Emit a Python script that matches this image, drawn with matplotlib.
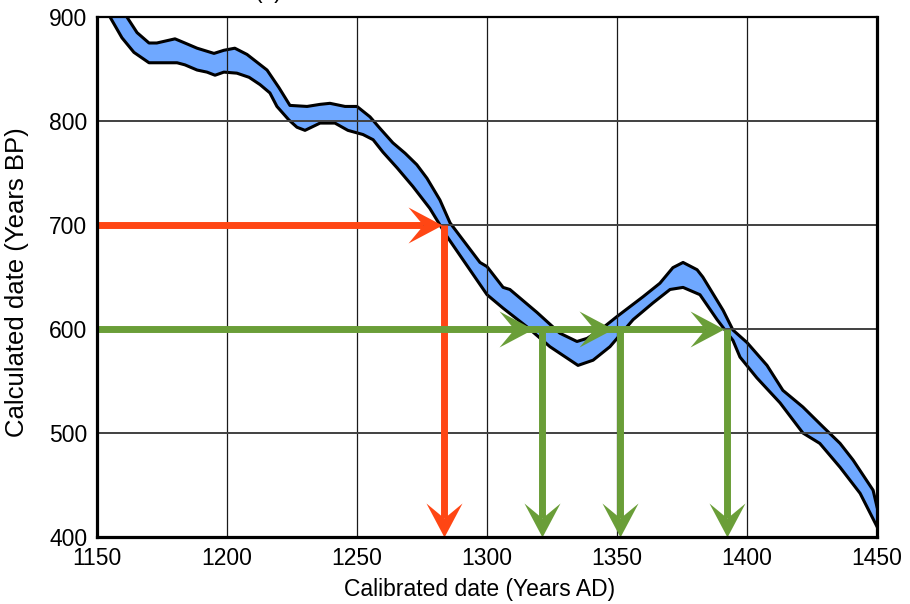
import numpy as np
import matplotlib
matplotlib.use("Agg")
import matplotlib.pyplot as plt
from matplotlib.path import Path

# ---------------- data ----------------
upper_x = [1150, 1157, 1161.5, 1165.4, 1170, 1173, 1180, 1183.8, 1188.5, 1195, 1198.8,
           1203, 1207.7, 1215.4, 1220, 1224.2, 1230.8, 1235.8, 1239.6, 1245.4, 1250,
           1255, 1258.8, 1263.8, 1268.5, 1273, 1276.9, 1281.9, 1285.8, 1297.3, 1300,
           1306.2, 1308.8, 1319.2, 1328, 1334.6, 1338.5, 1343.5, 1350, 1360, 1366.5,
           1371.5, 1375.4, 1380.8, 1383, 1390.8, 1394.6, 1400, 1407.7, 1413.8, 1421.5,
           1429.2, 1435.8, 1440.8, 1448.5, 1450]
upper_y = [940, 918, 900, 885, 875, 875, 879, 875, 870, 865, 868,
           870, 864, 849, 832, 815, 814, 816, 817, 814, 814,
           804, 793, 779, 769, 758, 745, 724, 702, 664, 660,
           640, 638, 616, 596, 588, 591, 599, 612, 631, 644,
           659, 664, 657, 650, 618, 599, 587, 565, 541, 525,
           506, 490, 474, 445, 429]

lower_x = [1150, 1155, 1159.6, 1164.2, 1170, 1180.8, 1183.8, 1188.5, 1192.3, 1195.4,
           1198.8, 1203.8, 1208.5, 1212.7, 1216.5, 1219.2, 1223.8, 1226.9, 1230,
           1235.8, 1241.5, 1246.5, 1252.3, 1256.2, 1260, 1265.4, 1271.5, 1278,
           1284.6, 1300, 1306.2, 1315.4, 1324.2, 1335, 1340.8, 1347.3, 1356.2,
           1363.8, 1370.4, 1375.4, 1381.9, 1388.5, 1394.6, 1397.3, 1403.8, 1412.7,
           1421.5, 1428, 1435.8, 1443.5, 1450]
lower_y = [922, 900, 880, 866, 856, 856, 854, 849, 847, 844,
           847, 846, 842, 835, 827, 814, 801, 794, 791,
           798, 798, 791, 787, 782, 770, 755, 737, 716,
           689, 633, 620, 602, 583, 565, 570, 583, 609,
           625, 638, 640, 633, 609, 589, 573, 553, 529,
           500, 490, 467, 442, 410]

x_ticks = [1150, 1200, 1250, 1300, 1350, 1400, 1450]
y_ticks = [400, 500, 600, 700, 800, 900]

red_level = 700          # measured date (years BP)
red_arrow_end = 1282.7   # where the horizontal red arrow ends
red_drop_x = 1283.5

green_level = 600
green_arrow_ends = [1317.5, 1348.5, 1391]
green_drop_x = [1321, 1351, 1392.3]

# ---------------- style ----------------
RED = "#FF4614"
GREEN = "#6A9E38"
BLUE = "#6FA8FF"
FONT = "Liberation Sans"
plt.rcParams["font.family"] = [FONT, "DejaVu Sans"]

fig = plt.figure(figsize=(9.10, 6.04), dpi=100)
ax = fig.add_axes([97 / 910, 67 / 604, 780 / 910, 520 / 604])
ax.set_xlim(1150, 1450)
ax.set_ylim(400, 900)
ax.set_xticks(x_ticks)
ax.set_yticks(y_ticks)
ax.tick_params(length=0, labelsize=16.5, pad=7)

# grid
for xv in x_ticks[1:-1]:
    ax.axvline(xv, color="#1a1a1a", lw=0.9, zorder=2.5)
for yv in y_ticks[1:-1]:
    ax.axhline(yv, color="#404040", lw=1.4, zorder=2.5)

for side, lw in (("left", 2.3), ("bottom", 2.3), ("right", 2.3), ("top", 1.6)):
    ax.spines[side].set_linewidth(lw)
    ax.spines[side].set_zorder(5)

# band
bx = list(upper_x) + list(lower_x[::-1])
by = list(upper_y) + list(lower_y[::-1])
ax.fill(bx, by, color=BLUE, lw=0, zorder=1)
ax.plot(upper_x, upper_y, color="black", lw=2.2, zorder=1.5, solid_joinstyle="round")
ax.plot(lower_x, lower_y, color="black", lw=2.2, zorder=1.5, solid_joinstyle="round")

# arrow heads (stealth-like), tip at origin
HEAD_L = 1.0
HEAD_W = 1.06
NOTCH = 0.56
right_head = Path([(0, 0), (-HEAD_L, HEAD_W / 2), (-NOTCH * HEAD_L, 0),
                   (-HEAD_L, -HEAD_W / 2), (0, 0)],
                  [Path.MOVETO, Path.LINETO, Path.LINETO, Path.LINETO, Path.CLOSEPOLY])
down_head = Path([(0, 0), (HEAD_W / 2, HEAD_L), (0, NOTCH * HEAD_L),
                  (-HEAD_W / 2, HEAD_L), (0, 0)],
                 [Path.MOVETO, Path.LINETO, Path.LINETO, Path.LINETO, Path.CLOSEPOLY])
head_px = 34.0                       # head length in pixels
head_pt = head_px * 72 / fig.dpi
msize = 2 * head_pt
shaft_lw = 5.0


def shortened(x0, y0, x1, y1, back_px):
    p0 = ax.transData.transform((x0, y0))
    p1 = ax.transData.transform((x1, y1))
    d = p1 - p0
    u = d / np.hypot(*d)
    p = p1 - u * back_px
    return ax.transData.inverted().transform(p)


def arrow(x0, y0, x1, y1, color, marker):
    ex, ey = shortened(x0, y0, x1, y1, NOTCH * head_px)
    ax.plot([x0, ex], [y0, ey], color=color, lw=shaft_lw, solid_capstyle="butt",
            zorder=4, clip_on=False)
    ax.plot([x1], [y1], marker=marker, markersize=msize, color=color,
            markeredgewidth=0, zorder=4.5, clip_on=False)


# red
arrow(1150, red_level, red_arrow_end, red_level, RED, right_head)
arrow(red_drop_x, red_level, red_drop_x, 400, RED, down_head)

# green
arrow(1150, green_level, green_arrow_ends[-1], green_level, GREEN, right_head)
for xe in green_arrow_ends[:-1]:
    ax.plot([xe], [green_level], marker=right_head, markersize=msize, color=GREEN,
            markeredgewidth=0, zorder=4.5)
for xd in green_drop_x:
    arrow(xd, green_level, xd, 400, GREEN, down_head)

ax.set_xlabel("Calibrated date (Years AD)", fontsize=16.5)
ax.set_ylabel("Calculated date (Years BP)", fontsize=18.5)
ax.xaxis.set_label_coords(0.49, -0.078)
ax.yaxis.set_label_coords(-0.087, 0.49)

fig.text(268 / 910, 1 - 3 / 604, "(a)", ha="center", va="bottom", fontsize=16.5)

fig.savefig("out.png", dpi=100)
